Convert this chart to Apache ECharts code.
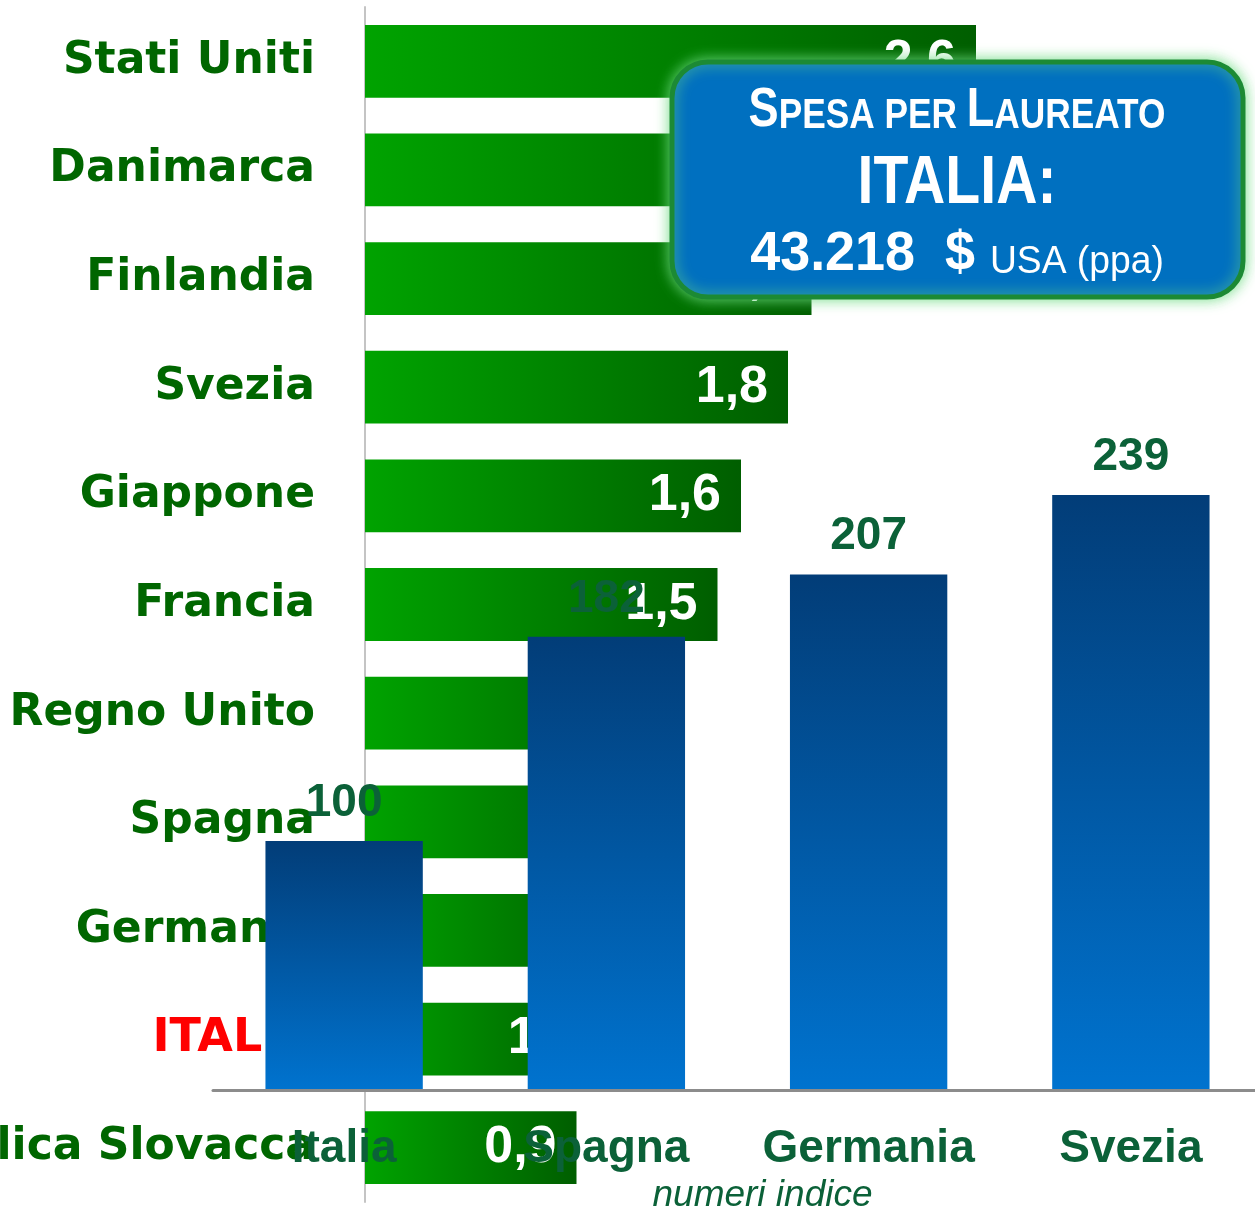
<!DOCTYPE html>
<html>
<head>
<meta charset="utf-8">
<script src="https://cdn.jsdelivr.net/npm/echarts@6/dist/echarts.min.js"></script>
<style>
  html, body { margin: 0; padding: 0; background: #fff; }
  #main { width: 1255px; height: 1206px; }
</style>
</head>
<body>
<div id="main"></div>
<script>
// spesa per istruzione terziaria (barre verdi orizzontali)
var paesi = ['Stati Uniti', 'Danimarca', 'Finlandia', 'Svezia', 'Giappone', 'Francia', 'Regno Unito', 'Spagna', 'Germania', 'ITALIA', 'Repubblica Slovacca'];
var valoriPaesi = [2.6, 2.2, 1.9, 1.8, 1.6, 1.5, 1.3, 1.2, 1.1, 1.0, 0.9];

// spesa per laureato, numeri indice (barre blu)
var paesiIndice = ['Italia', 'Spagna', 'Germania', 'Svezia'];
var numeriIndice = [100, 182, 207, 239];

var verde = '#006600', verdeScuro = '#0b6138';

var chart = echarts.init(document.getElementById('main'));

chart.setOption({
    animation: false,
    grid: [
        { left: 365, right: 185, top: 7, bottom: 4, containLabel: false, outerBoundsMode: 'none' },
        { left: 213, right: -7, top: 94, bottom: 116, containLabel: false, outerBoundsMode: 'none' }
    ],
    xAxis: [{
        gridIndex: 0, type: 'value', min: 0, max: 3, show: false
    }, {
        gridIndex: 1, type: 'category', data: paesiIndice, z: 5,
        axisLine: { lineStyle: { color: '#8c8c8c', width: 3 } },
        axisTick: { show: false },
        axisLabel: {
            interval: 0, margin: 36, color: verdeScuro, fontSize: 46, fontWeight: 'bold',
            fontFamily: 'Liberation Sans'
        },
        name: 'numeri indice', nameLocation: 'middle', nameGap: 86,
        nameTextStyle: {
            color: verdeScuro, fontSize: 37, fontStyle: 'italic',
            fontFamily: 'Liberation Sans', padding: [0, 0, 0, 50]
        }
    }],
    yAxis: [{
        gridIndex: 0, type: 'category', data: paesi, inverse: true,
        axisLine: { lineStyle: { color: '#c4c4c4', width: 2 } },
        axisTick: { show: false },
        axisLabel: {
            interval: 0, margin: 50, color: verde, fontSize: 44, fontWeight: 'bold',
            fontFamily: 'DejaVu Sans',
            formatter: function (v) { return v === 'ITALIA' ? '{r|' + v + '}' : v; },
            rich: { r: { color: '#ff0000', fontSize: 46, fontWeight: 'bold', fontFamily: 'DejaVu Sans' } }
        }
    }, {
        gridIndex: 1, type: 'value', min: 0, max: 400, show: false
    }],
    series: [{
        type: 'bar', xAxisIndex: 0, yAxisIndex: 0, z: 2,
        data: valoriPaesi,
        barCategoryGap: '33%',
        itemStyle: {
            color: new echarts.graphic.LinearGradient(0, 0, 1, 0, [
                { offset: 0, color: '#00a300' },
                { offset: 1, color: '#005e00' }
            ])
        },
        label: {
            show: true, position: 'insideRight', distance: 20,
            color: '#fff', fontSize: 52, fontWeight: 'bold', fontFamily: 'Liberation Sans',
            formatter: function (p) { return p.value.toFixed(1).replace('.', ','); }
        }
    }, {
        type: 'bar', xAxisIndex: 1, yAxisIndex: 1, z: 3,
        data: numeriIndice,
        barWidth: '60%',
        itemStyle: {
            color: new echarts.graphic.LinearGradient(0, 0, 0, 1, [
                { offset: 0, color: '#023d78' },
                { offset: 1, color: '#0073cf' }
            ])
        },
        label: {
            show: true, position: 'top', distance: 15,
            color: verdeScuro, fontSize: 46, fontWeight: 'bold', fontFamily: 'Liberation Sans'
        }
    }],
    graphic: [{
        type: 'rect', z: 100,
        shape: { x: 672, y: 62, width: 571, height: 235, r: 36 },
        style: {
            fill: '#0070c0', stroke: '#1c8a34', lineWidth: 5,
            shadowBlur: 14, shadowColor: 'rgba(110,220,130,0.9)'
        }
    }, {
        type: 'text', z: 101, x: 957, y: 84, scaleX: 0.82,
        style: {
            text: '{b|S}{s|PESA PER }{b|L}{s|AUREATO}',
            align: 'center', fill: '#fff',
            rich: {
                b: { fontSize: 55, fontWeight: 'bold', fontFamily: 'Liberation Sans', fill: '#fff', verticalAlign: 'bottom', lineHeight: 54 },
                s: { fontSize: 43, fontWeight: 'bold', fontFamily: 'Liberation Sans', fill: '#fff', verticalAlign: 'bottom', lineHeight: 54 }
            }
        }
    }, {
        type: 'text', z: 101, x: 957, y: 150, scaleX: 0.84,
        style: { text: 'ITALIA:', align: 'center', fill: '#fff', fontSize: 68, fontWeight: 'bold', fontFamily: 'Liberation Sans' }
    }, {
        type: 'text', z: 101, x: 957, y: 224, scaleX: 0.98,
        style: {
            text: '{n|43.218  $ }{u|USA (ppa)}',
            align: 'center', fill: '#fff',
            rich: {
                n: { fontSize: 55, fontWeight: 'bold', fontFamily: 'Liberation Sans', fill: '#fff', verticalAlign: 'bottom', lineHeight: 58 },
                u: { fontSize: 38, fontFamily: 'Liberation Sans', fill: '#fff', verticalAlign: 'bottom', lineHeight: 58 }
            }
        }
    }]
});
</script>
</body>
</html>
